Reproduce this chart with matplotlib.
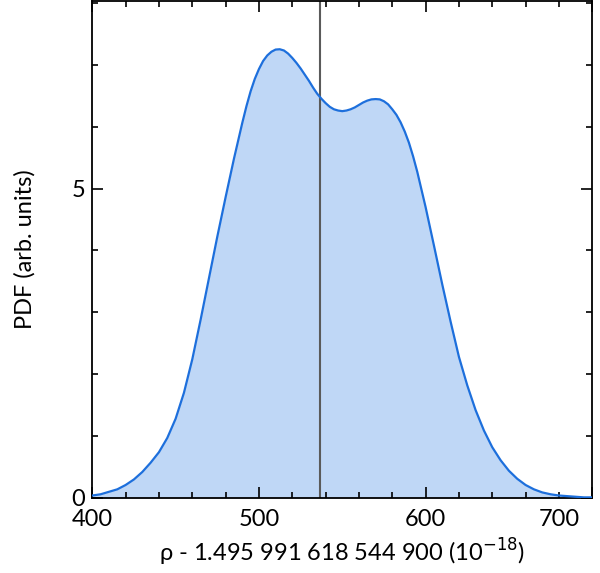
import matplotlib
matplotlib.use("Agg")
import matplotlib.pyplot as plt
from matplotlib.ticker import MultipleLocator
from matplotlib.transforms import ScaledTranslation

plt.rcParams['font.family'] = ['Lato', 'DejaVu Sans']

# Density estimate of rho (offset from 1.495 991 618 544 900, in 1e-18)
rho = [400, 405, 410, 415, 420, 425, 430, 435, 440, 445, 450, 455, 460, 465,
       470, 475, 480, 485, 490, 492.5, 495, 497.5, 500, 502.5, 505, 507.5,
       510, 512.5, 515, 517.5, 520, 522.5, 525, 527.5, 530, 532.5, 535,
       537.5, 540, 542.5, 545, 547.5, 550, 552.5, 555, 557.5, 560, 562.5,
       565, 567.5, 570, 572.5, 575, 577.5, 580, 582.5, 585, 587.5, 590,
       592.5, 595, 600, 605, 610, 615, 620, 625, 630, 635, 640, 645, 650,
       655, 660, 665, 670, 675, 680, 685, 690, 695, 700]
pdf = [0.04, 0.06, 0.10, 0.14, 0.21, 0.30, 0.42, 0.57, 0.74, 0.97, 1.28,
       1.70, 2.24, 2.88, 3.55, 4.22, 4.86, 5.48, 6.06, 6.33, 6.57, 6.77,
       6.93, 7.06, 7.15, 7.21, 7.245, 7.25, 7.23, 7.18, 7.11, 7.03, 6.94,
       6.84, 6.74, 6.63, 6.53, 6.45, 6.38, 6.32, 6.28, 6.26, 6.25, 6.26,
       6.28, 6.31, 6.35, 6.39, 6.42, 6.44, 6.445, 6.44, 6.41, 6.36, 6.28,
       6.19, 6.07, 5.92, 5.74, 5.52, 5.27, 4.70, 4.08, 3.45, 2.85, 2.28,
       1.82, 1.42, 1.09, 0.82, 0.61, 0.44, 0.31, 0.21, 0.14, 0.09, 0.06,
       0.04, 0.03, 0.02, 0.01, 0.01]
reference_value = 536.6

xticks = [400, 500, 600, 700]
yticks = [0, 5]

fig = plt.figure(figsize=(6.0, 5.73), dpi=100)
ax = fig.add_axes([0.1538, 0.1309, 0.8333, 0.8674])

ax.fill_between(rho, 0, pdf, color='#bfd7f6', lw=0, zorder=1)
ax.plot(rho, pdf, color='#1d6fdc', lw=1.6, zorder=3,
        solid_joinstyle='round')
ax.axvline(reference_value, color='#5a5a5a', lw=1.5, zorder=2)

ax.set_xlim(400, 700)
ax.set_ylim(0, 8.03)
ax.set_xticks(xticks)
ax.set_xticklabels([str(v) for v in xticks])
ax.set_yticks(yticks)
ax.set_yticklabels([str(v) for v in yticks])
ax.xaxis.set_minor_locator(MultipleLocator(20))
ax.yaxis.set_minor_locator(MultipleLocator(1))

ax.tick_params(which='both', direction='in', top=True, right=True,
               width=1.2, colors='black', labelsize=17)
ax.tick_params(which='major', length=8)
ax.tick_params(axis='x', which='major', pad=8)
ax.tick_params(axis='y', which='major', pad=5)
ax.tick_params(which='minor', length=4)
for s in ax.spines.values():
    s.set_linewidth(1.3)

# keep the last x label inside the frame
last = ax.get_xticklabels()[-1]
last.set_transform(last.get_transform() +
                   ScaledTranslation(-0.33, 0, fig.dpi_scale_trans))

ax.set_xlabel('ρ - 1.495 991 618 544 900 (10$^{-18}$)', fontsize=17, labelpad=5)
ax.set_ylabel('PDF (arb. units)', fontsize=17, labelpad=26)

fig.savefig('out.png', dpi=100)
